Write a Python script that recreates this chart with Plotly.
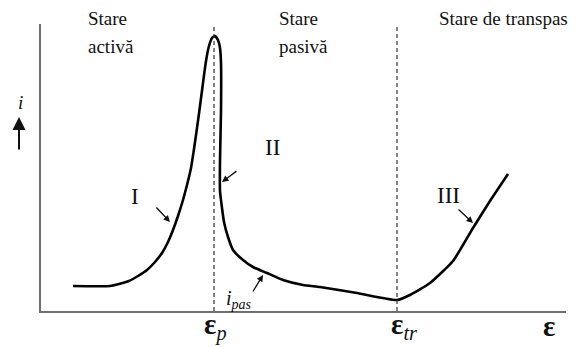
import plotly.graph_objects as go

# curba de polarizare anodica (unitati arbitrare)
potential = [32, 69, 78, 88, 97, 106, 114, 121, 127, 132, 137, 142, 146, 150, 153, 156,
             159, 162, 165, 168, 171, 174, 177, 179, 180, 180, 179, 179, 181, 183, 187,
             192, 202, 212, 226, 242, 262, 279, 316, 356, 369, 389, 412, 432, 449, 467]
curent = [25, 25, 27, 30, 35, 41, 49, 58, 69, 81, 95, 111, 126, 143, 162, 183,
          205, 228, 250, 265, 273, 275, 271, 263, 248, 200, 150, 120, 103, 89, 74,
          61, 51, 44, 38, 31, 26, 24, 18, 11, 16, 28, 50, 83, 110, 137]

E_p = 173
E_tr = 356

# pagina are margine de 8px in browser
OFF = 8
W, H = 579 - OFF, 347 - OFF
L, R, T, B = 41 - OFF, 13, 24 - OFF, 36
X_MAX = W - L - R
Y_MAX = H - T - B

SERIF = "Times New Roman, Liberation Serif, DejaVu Serif, serif"


def px(x):
    return (x - OFF - L) / X_MAX


def py(y):
    return (H - B - (y - OFF)) / Y_MAX


fig = go.Figure()
fig.add_trace(go.Scatter(
    x=potential, y=curent, mode="lines",
    line=dict(color="black", width=2.6, shape="spline", smoothing=0.5),
    hoverinfo="skip", showlegend=False,
))

for e in (E_p, E_tr):
    fig.add_shape(type="line", xref="x", yref="y", x0=e, x1=e, y0=0, y1=Y_MAX - 1,
                  line=dict(color="#333333", width=1.2, dash="4px,3px"))


def text(s, x, y, size=19, anchor="left", italic=False):
    fig.add_annotation(text=s, xref="paper", yref="paper", x=px(x), y=py(y),
                       xanchor=anchor, yanchor="middle", showarrow=False,
                       font=dict(family=SERIF, size=size, color="#111111",
                                 style="italic" if italic else "normal"))


def arrow(x0, y0, x1, y1, width=1.3, head=2, size=1.0):
    fig.add_annotation(text="", xref="paper", yref="paper", x=px(x1), y=py(y1),
                       ax=x0 - x1, ay=y0 - y1, showarrow=True, arrowhead=head,
                       arrowsize=size, arrowwidth=width, arrowcolor="#111111")


text("Stare", 86, 19)
text("activă", 86, 46)
text("Stare", 277, 19)
text("pasivă", 277, 46)
text("Stare de transpas", 437, 19)

text("I", 135, 197, size=23, anchor="center")
text("II", 272, 147, size=23, anchor="center")
text("III", 448, 195, size=23, anchor="center")
arrow(155, 206, 170, 222)
arrow(238, 170, 222, 182)
arrow(457, 208, 473, 223)
arrow(252, 293, 263, 275)

text("i<sub>pas</sub>", 224, 299, size=20, italic=True)

text("i", 20, 102, size=19, anchor="center", italic=True)
arrow(19, 151, 19, 117, width=2, head=2, size=1.3)

text("<b>ε</b><sub><i>p</i></sub>", 202, 326, size=29)
text("<b>ε</b><sub><i>tr</i></sub>", 389, 326, size=29)
text("<b>ε</b>", 541, 326, size=29)

fig.update_xaxes(range=[0, X_MAX], showline=True, linecolor="#6e6e6e", linewidth=2,
                 showgrid=False, zeroline=False, showticklabels=False, ticks="")
fig.update_yaxes(range=[0, Y_MAX], showline=True, linecolor="#6e6e6e", linewidth=2,
                 showgrid=False, zeroline=False, showticklabels=False, ticks="")
fig.update_layout(width=W, height=H, margin=dict(l=L, r=R, t=T, b=B),
                  plot_bgcolor="white", paper_bgcolor="white")

fig.write_html("out.html")
